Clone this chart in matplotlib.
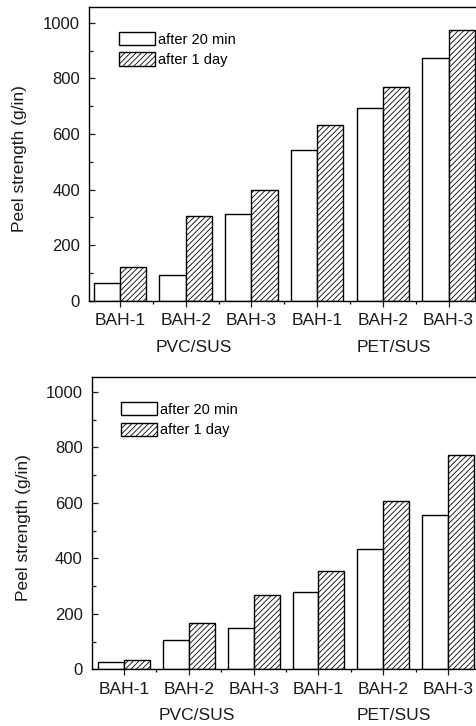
import matplotlib
matplotlib.use("Agg")
import matplotlib.pyplot as plt
from matplotlib.ticker import MultipleLocator, FixedLocator
import numpy as np

plt.rcParams['font.family'] = ['Liberation Sans', 'DejaVu Sans']
plt.rcParams['hatch.linewidth'] = 0.6

categories = ["BAH-1", "BAH-2", "BAH-3", "BAH-1", "BAH-2", "BAH-3"]
groups = ["PVC/SUS", "PET/SUS"]
series_names = ["after 20 min", "after 1 day"]

top_20min = [62, 91, 311, 541, 693, 875]
top_1day = [120, 305, 400, 631, 770, 975]

bot_20min = [28, 104, 148, 277, 435, 555]
bot_1day = [32, 166, 268, 354, 606, 774]

yticks = [0, 200, 400, 600, 800, 1000]

W, H = 477, 726
fig = plt.figure(figsize=(W / 100, H / 100), dpi=100)


def px_axes(left, top, right, bottom):
    return fig.add_axes([left / W, 1 - bottom / H, (right - left) / W, (bottom - top) / H])


def draw(ax, v1, v2, xlim, leg_anchor):
    x = np.arange(1, len(categories) + 1)
    w = 0.4
    b1 = ax.bar(x - w / 2, v1, width=w, color='white', edgecolor='black', linewidth=1.0,
                label=series_names[0])
    b2 = ax.bar(x + w / 2, v2, width=w, color='white', edgecolor='black', linewidth=1.0,
                hatch='//////', label=series_names[1])
    ax.set_xlim(*xlim)
    ax.set_ylim(0, 1055)
    ax.set_yticks(yticks)
    ax.set_yticklabels([str(t) for t in yticks])
    ax.yaxis.set_minor_locator(MultipleLocator(100))
    ax.set_xticks(x)
    ax.set_xticklabels(categories)
    ax.xaxis.set_minor_locator(FixedLocator(x[:-1] + 0.5))
    ax.tick_params(axis='y', which='both', direction='in', length=4, width=0.9,
                   labelsize=12, pad=6.5, colors='#1a1a1a')
    ax.tick_params(axis='y', which='minor', length=3)
    ax.tick_params(axis='x', which='major', direction='out', length=4, width=0.9,
                   labelsize=12.5, pad=5, colors='#1a1a1a')
    ax.tick_params(axis='x', which='minor', direction='out', length=2.5, width=0.9)
    for s in ax.spines.values():
        s.set_linewidth(1.0)
    ax.set_ylabel("Peel strength (g/in)", fontsize=12.5, color='#1a1a1a')
    gx = [2.12, 5.16]
    for g, xx in zip(groups, gx):
        ax.annotate(g, xy=(xx, 0), xycoords=('data', 'axes fraction'),
                    xytext=(0, -33.6), textcoords='offset points',
                    ha='center', va='center', fontsize=12.5, color='#1a1a1a')
    ax.legend(handles=[b1, b2], loc='upper left', bbox_to_anchor=leg_anchor,
              frameon=False, fontsize=10.5, handlelength=2.45, handleheight=1.0,
              handletextpad=0.25, labelspacing=0.4, borderpad=0, borderaxespad=0)


ax1 = px_axes(89, 7.5, 479.4, 300.7)
draw(ax1, top_20min, top_1day, (0.528, 6.47), (0.0768, 0.916))
ax1.yaxis.set_label_coords(-0.159, 0.486)

ax2 = px_axes(91.7, 376.7, 480.4, 669.3)
draw(ax2, bot_20min, bot_1day, (0.5, 6.5), (0.0754, 0.913))
ax2.yaxis.set_label_coords(-0.156, 0.486)

fig.savefig("out.png", dpi=100)
